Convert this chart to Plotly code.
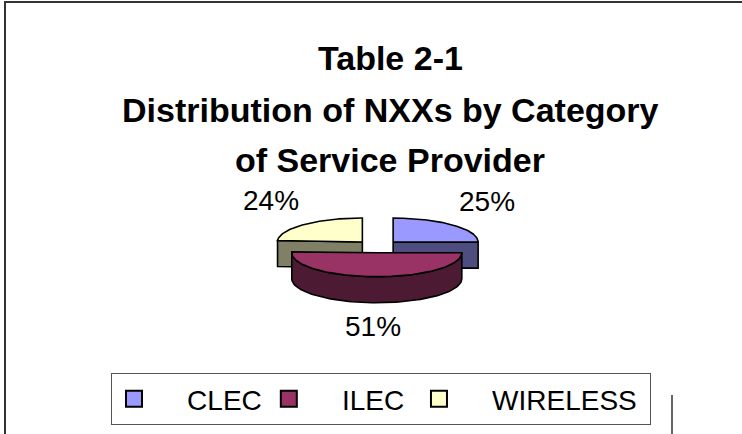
import numpy as np
import plotly.graph_objects as go

# ---------------- data ----------------
categories = ["CLEC", "ILEC", "WIRELESS"]
values = [25, 51, 24]
title_lines = ["Table 2-1", "Distribution of NXXs by Category", "of Service Provider"]

# ---------------- style ----------------
top_colors = ["#9999FF", "#993366", "#FFFFCC"]
side_colors = ["#4D4D80", "#4D1A33", "#808066"]
W, H = 742, 434
CX, CY = 377.5, 246.5      # pie centre (pixel units of hidden axes)
RX, RY = 85.0, 24.0        # ellipse radii of the tilted pie
DEPTH = 26.0               # thickness of the 3-D pie
EXPLODE = 0.26             # explosion as a fraction of radius
FONT = "Liberation Sans, Arial, sans-serif"
NBSP = "\u00a0"

total = float(sum(values))
fracs = [v / total for v in values]

fig = go.Figure()


def rim(cx, cy, a):
    t = np.radians(a)
    return cx + RX * np.cos(t), cy - RY * np.sin(t)


def add_poly(xs, ys, color):
    fig.add_trace(go.Scatter(
        x=list(xs) + [xs[0]], y=list(ys) + [ys[0]], mode="lines", fill="toself",
        fillcolor=color, line=dict(color="black", width=1.6),
        hoverinfo="skip", showlegend=False))


# slice angles: start at 12 o'clock, clockwise
slices = []
start = 90.0
for i, f in enumerate(fracs):
    hi = start
    lo = start - 360.0 * f
    start = lo
    mid = 0.5 * (hi + lo)
    slices.append(dict(i=i, lo=lo, hi=hi, mid=mid))

# painter's order: back slices first
order = sorted(slices, key=lambda s: -np.sin(np.radians(s["mid"])))

for s in order:
    i, lo, hi, mid = s["i"], s["lo"], s["hi"], s["mid"]
    tm = np.radians(mid)
    cx = CX + EXPLODE * RX * np.cos(tm)
    cy = CY - EXPLODE * RY * np.sin(tm)
    # outer curved wall (front half only)
    for k in (-1, 0, 1):
        a1 = max(lo, -180.0 + 360.0 * k)
        a2 = min(hi, 0.0 + 360.0 * k)
        if a2 - a1 > 0.5:
            ang = np.linspace(a1, a2, 80)
            px, py = rim(cx, cy, ang)
            xs = np.concatenate([px, px[::-1]])
            ys = np.concatenate([py, (py + DEPTH)[::-1]])
            add_poly(xs, ys, side_colors[i])
    # radial cut faces visible to the viewer
    for a, vis in ((lo, np.cos(np.radians(lo)) > 1e-6), (hi, np.cos(np.radians(hi)) < -1e-6)):
        if vis:
            px, py = rim(cx, cy, a)
            add_poly([cx, px, px, cx], [cy, py, py + DEPTH, cy + DEPTH], side_colors[i])
    # top face
    ang = np.linspace(lo, hi, 120)
    px, py = rim(cx, cy, ang)
    add_poly(np.concatenate([[cx], px]), np.concatenate([[cy], py]), top_colors[i])
    # percentage label
    rx_, ry_ = rim(cx, cy, mid)
    sn = np.sin(tm)
    if sn < 0:
        ry_ = ry_ + DEPTH * (-sn)
        yshift = sn * 24
    else:
        yshift = sn * 33
    fig.add_annotation(x=rx_, y=ry_, xref="x", yref="y", showarrow=False,
                       text=f"{round(fracs[i] * 100)}%", xshift=np.cos(tm) * 48, yshift=yshift,
                       font=dict(family=FONT, size=28, color="black"))

# legend entries (no-break spaces only widen the gap between symbol and text)
lead = [4, 4, 4]
trail = [0, 1, 1]
for i, c in enumerate(categories):
    fig.add_trace(go.Scatter(x=[None], y=[None], mode="markers",
                             name=NBSP * lead[i] + c + NBSP * trail[i],
                             marker=dict(symbol="square", size=16, color=top_colors[i],
                                         line=dict(color="black", width=2))))

# title lines
for j, (t, yc) in enumerate(zip(title_lines, [58, 110, 160])):
    fig.add_annotation(x=390, y=yc, xref="x", yref="y", showarrow=False, text=f"<b>{t}</b>",
                       font=dict(family=FONT, size=34, color="black"))

# chart frame and a sheet gridline
fig.add_shape(type="rect", xref="x", yref="y", x0=5, y0=2, x1=W + 10, y1=H + 10,
              line=dict(color="#333333", width=2))
fig.add_shape(type="line", xref="x", yref="y", x0=672, y0=395, x1=672, y1=H + 5,
              line=dict(color="#333333", width=1.5))

fig.update_layout(
    width=W, height=H, margin=dict(l=0, r=0, t=0, b=0),
    paper_bgcolor="white", plot_bgcolor="white",
    xaxis=dict(range=[0, W], visible=False, fixedrange=True),
    yaxis=dict(range=[H, 0], visible=False, fixedrange=True),
    showlegend=True,
    legend=dict(orientation="h", x=111 / W, xanchor="left", y=1 - 373 / H, yanchor="top",
                bordercolor="#555555", borderwidth=1, bgcolor="white",
                font=dict(family=FONT, size=28, color="black"),
                itemwidth=34, traceorder="normal"),
)

fig.write_html("out.html", config={"displayModeBar": False},
               post_script="document.body.style.margin='0';")
